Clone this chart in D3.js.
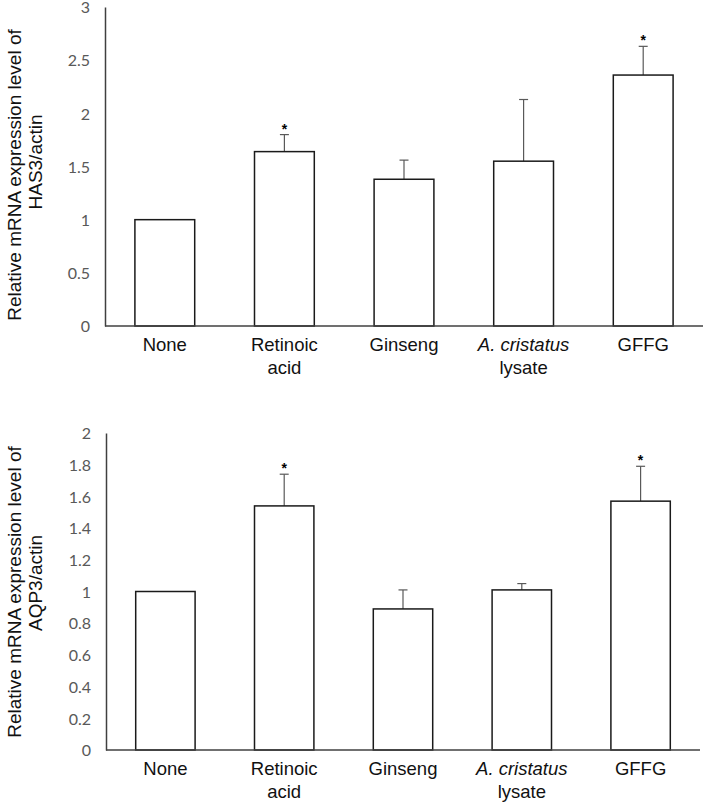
<!DOCTYPE html>
<html>
<head>
<meta charset="utf-8">
<script src="https://cdn.jsdelivr.net/npm/d3@7"></script>
<style>
  body { margin: 0; background: #fff; }
  svg { display: block; }
</style>
</head>
<body>
<svg id="chart" width="706" height="803"></svg>
<script>
// categories, with line breaks as in the figure
var categories = ["None", "Retinoic acid", "Ginseng", "A. cristatus lysate", "GFFG"];
var labelLines = [["None"], ["Retinoic", "acid"], ["Ginseng"], ["A. cristatus", "lysate"], ["GFFG"]];

// HAS3 panel
var has3Mean = [1.0, 1.64, 1.38, 1.55, 2.36];
var has3Err  = [0, 0.16, 0.18, 0.58, 0.27];
var has3Sig  = [false, true, false, false, true];
var has3Ticks = [0, 0.5, 1, 1.5, 2, 2.5, 3];

// AQP3 panel
var aqp3Mean = [1.0, 1.54, 0.89, 1.01, 1.57];
var aqp3Err  = [0, 0.20, 0.12, 0.04, 0.22];
var aqp3Sig  = [false, true, false, false, true];
var aqp3Ticks = [0, 0.2, 0.4, 0.6, 0.8, 1, 1.2, 1.4, 1.6, 1.8, 2];

var svg = d3.select("#chart");

function drawPanel(opt) {
    var g = svg.append("g");

    var x = d3.scaleBand()
        .domain(categories)
        .range([opt.left, opt.right])
        .paddingInner(0.5)
        .paddingOuter(0.25);

    var y = d3.scaleLinear()
        .domain([0, opt.max])
        .range([opt.bottom, opt.top]);

    var rows = categories.map(function(c, i) {
        return {cat: c, lines: labelLines[i], mean: opt.mean[i], err: opt.err[i], sig: opt.sig[i]};
    });

    // y axis
    var yAxis = g.append("g")
        .attr("transform", "translate(" + opt.left + ",0)")
        .call(d3.axisLeft(y).tickValues(opt.ticks).tickSize(0).tickPadding(15).tickFormat(d3.format("~g")));
    yAxis.select(".domain").attr("stroke", "#404040").attr("stroke-width", 1.5);
    yAxis.selectAll("text")
        .attr("fill", "#595959")
        .attr("dy", "0.36em")
        .style("font-family", "Lato, 'Open Sans', sans-serif")
        .style("font-size", "16px");

    // error bars (upper only)
    var eb = g.selectAll(".err").data(rows.filter(function(d) { return d.err > 0; }))
        .enter().append("g").attr("class", "err")
        .attr("stroke", "#595959").attr("stroke-width", 1.2);
    eb.append("line")
        .attr("x1", function(d) { return x(d.cat) + x.bandwidth() / 2; })
        .attr("x2", function(d) { return x(d.cat) + x.bandwidth() / 2; })
        .attr("y1", function(d) { return y(d.mean); })
        .attr("y2", function(d) { return y(d.mean + d.err); });
    eb.append("line")
        .attr("x1", function(d) { return x(d.cat) + x.bandwidth() / 2 - 4.5; })
        .attr("x2", function(d) { return x(d.cat) + x.bandwidth() / 2 + 4.5; })
        .attr("y1", function(d) { return y(d.mean + d.err); })
        .attr("y2", function(d) { return y(d.mean + d.err); });

    // bars
    g.selectAll(".bar").data(rows).enter().append("rect")
        .attr("class", "bar")
        .attr("x", function(d) { return x(d.cat); })
        .attr("y", function(d) { return y(d.mean); })
        .attr("width", x.bandwidth())
        .attr("height", function(d) { return y(0) - y(d.mean); })
        .attr("fill", "#fff")
        .attr("stroke", "#1a1a1a")
        .attr("stroke-width", 1.5);

    // asterisks
    g.selectAll(".star").data(rows.filter(function(d) { return d.sig; }))
        .enter().append("text")
        .attr("class", "star")
        .attr("x", function(d) { return x(d.cat) + x.bandwidth() / 2; })
        .attr("y", function(d) { return y(d.mean + d.err) - 1; })
        .attr("text-anchor", "middle")
        .style("font-family", "'Liberation Sans', Arial, sans-serif")
        .style("font-size", "14px")
        .style("font-weight", "bold")
        .text("*");

    // x axis line
    g.append("line")
        .attr("x1", opt.left).attr("x2", opt.right)
        .attr("y1", y(0)).attr("y2", y(0))
        .attr("stroke", "#404040").attr("stroke-width", 1.5);

    // category labels
    var lab = g.selectAll(".cat").data(rows).enter().append("text")
        .attr("class", "cat")
        .attr("text-anchor", "middle")
        .style("font-family", "'Liberation Sans', Arial, sans-serif")
        .style("font-size", "18.5px")
        .attr("fill", "#111");
    lab.each(function(d) {
        var t = d3.select(this);
        d.lines.forEach(function(line, j) {
            var cx = x(d.cat) + x.bandwidth() / 2;
            var ty = y(0) + 25 + j * 23;
            if (line.indexOf("A. cristatus") === 0) {
                t.append("tspan").attr("x", cx).attr("y", ty)
                    .style("font-style", "italic").text(line);
            } else {
                t.append("tspan").attr("x", cx).attr("y", ty).text(line);
            }
        });
    });

    // y title
    g.append("text")
        .attr("transform", "translate(" + 21 + "," + opt.title1Y + ") rotate(-90)")
        .attr("text-anchor", "middle")
        .style("font-family", "'Liberation Sans', Arial, sans-serif")
        .style("font-size", "19px")
        .attr("fill", "#111")
        .text("Relative mRNA expression level of");
    g.append("text")
        .attr("transform", "translate(" + 42 + "," + opt.title2Y + ") rotate(-90)")
        .attr("text-anchor", "middle")
        .style("font-family", "'Liberation Sans', Arial, sans-serif")
        .style("font-size", "19px")
        .attr("fill", "#111")
        .text(opt.gene + "/actin");
}

drawPanel({
    mean: has3Mean, err: has3Err, sig: has3Sig, ticks: has3Ticks, max: 3,
    left: 105, right: 703, top: 7, bottom: 326,
    gene: "HAS3", title1Y: 175, title2Y: 162
});

drawPanel({
    mean: aqp3Mean, err: aqp3Err, sig: aqp3Sig, ticks: aqp3Ticks, max: 2,
    left: 106, right: 700, top: 433, bottom: 750,
    gene: "AQP3", title1Y: 592, title2Y: 583
});
</script>
</body>
</html>
